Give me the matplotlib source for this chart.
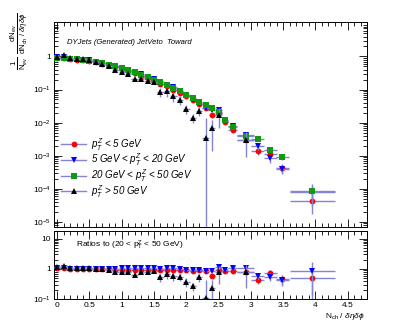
import numpy as np
import matplotlib
matplotlib.use("Agg")
import matplotlib.pyplot as plt
from matplotlib.lines import Line2D
from matplotlib.ticker import FixedLocator, LogLocator, FuncFormatter, MultipleLocator

plt.rcParams["font.family"] = ["Liberation Sans", "DejaVu Sans"]
plt.rcParams["mathtext.fontset"] = "custom"
plt.rcParams["mathtext.rm"] = "Liberation Sans"
plt.rcParams["mathtext.it"] = "Liberation Sans:italic"
plt.rcParams["mathtext.bf"] = "Liberation Sans:bold"

# bin centres / half widths (N_ch / deta dphi)
x = [0.0, 0.1, 0.2, 0.3, 0.4, 0.5, 0.6, 0.7, 0.8, 0.9, 1.0, 1.1, 1.2, 1.3,
     1.4, 1.5, 1.6, 1.7, 1.8, 1.9, 2.0, 2.1, 2.2, 2.3, 2.4, 2.5, 2.6,
     2.72, 2.92, 3.11, 3.30, 3.49, 3.95]
xerr = [0.05] * 27 + [0.07, 0.13, 0.10, 0.10, 0.10, 0.35]

# reference sample: 20 < pT(Z) < 50 GeV
green = [0.88, 0.88, 0.85, 0.82, 0.79, 0.74, 0.69, 0.63, 0.57, 0.50, 0.44,
         0.38, 0.33, 0.28, 0.24, 0.20, 0.165, 0.135, 0.11, 0.088, 0.07,
         0.054, 0.042, 0.033, 0.028, 0.021, 0.012,
         0.0073, 0.0039, 0.0032, 0.0015, 0.00093, 8.8e-5]

# ratios to the reference
red_ratio = [1.05, 1.05, 0.98, 0.97, 0.98, 0.98, 0.97, 0.97, 0.96, 0.95, 0.95,
             0.94, 0.95, 0.93, 0.92, 0.93, 0.92, 0.93, 0.90, 0.90, 0.90, 0.88,
             0.90, 0.84, 0.60, 0.95, 0.88, 0.84, 0.78, 0.42, 0.74, 0.45, 0.50]
blue_ratio = [1.08, 1.10, 1.02, 1.00, 1.02, 1.02, 1.00, 1.00, 1.00, 1.02, 1.04,
              1.05, 1.05, 1.05, 1.03, 1.05, 1.02, 1.04, 1.05, 1.00, 0.95, 0.95,
              0.92, 0.86, 0.86, 1.15, 0.95, 1.08, 1.05, 0.60, 0.55, 0.42, 0.88]
black_ratio = [1.13, 1.25, 1.08, 1.03, 1.03, 1.03, 1.00, 0.97, 0.90, 0.80, 0.76,
               0.76, 0.62, 0.76, 0.76, 0.84, 0.52, 0.65, 0.56, 0.55, 0.37, 0.26,
               0.53, 0.107, 0.24, 0.80, np.nan, np.nan, 0.78,
               np.nan, np.nan, np.nan, np.nan]

# relative stat. errors
green_rel = [0.01] * 20 + [0.02, 0.03, 0.03, 0.04, 0.05, 0.06, 0.08,
                           0.10, 0.12, 0.12, 0.15, 0.20, 0.60]
red_rel = [0.01] * 20 + [0.03, 0.04, 0.05, 0.06, 0.10, 0.08, 0.10,
                         0.12, 0.15, 0.20, 0.20, 0.30, 0.60]
blue_rel = [0.01] * 20 + [0.03, 0.04, 0.05, 0.06, 0.08, 0.08, 0.10,
                          0.12, 0.15, 0.20, 0.25, 0.30, 0.60]
black_rel = [0.02] * 9 + [0.05] * 3 + [0.10] * 4 + [0.30] * 7 + \
            [3.0, 0.8, 0.6, 0.0, 0.0, 0.7, 0.0, 0.0, 0.0, 0.0]

labels = [r"$p_{T}^{Z}$ < 5 GeV",
          r"5 GeV < $p_{T}^{Z}$ < 20 GeV",
          r"20 GeV < $p_{T}^{Z}$ < 50 GeV",
          r"$p_{T}^{Z}$ > 50 GeV"]
colors = ["#ff0000", "#0000ff", "#119911", "#000000"]
markers = ["o", "v", "s", "^"]
ecol = "#8484d4"

x = np.array(x)
xerr = np.array(xerr)
green = np.array(green)
ratios = [np.array(red_ratio), np.array(blue_ratio), None, np.array(black_ratio)]
rels = [np.array(red_rel), np.array(blue_rel), np.array(green_rel), np.array(black_rel)]

W, H = 407, 329
fig = plt.figure(figsize=(W / 100, H / 100), dpi=100)
ax = fig.add_axes([54 / W, 1 - 227 / H, 313 / W, 205 / H])
axr = fig.add_axes([54 / W, 1 - 299 / H, 313 / W, 68 / H])


def fmt_log(v, pos):
    if abs(v - 1) < 1e-9:
        return "1"
    if abs(v - 10) < 1e-9:
        return "10"
    e = int(round(np.log10(v)))
    return r"$10^{%d}$" % e


zs = [2, 3, 4, 5]
for i in range(4):
    yv = green if ratios[i] is None else green * ratios[i]
    ax.errorbar(x, yv, yerr=yv * rels[i], xerr=xerr, fmt=markers[i],
                color=colors[i], ecolor=ecol, elinewidth=1, capsize=0,
                ms=4.2, mew=0, zorder=zs[i])

for i in [1, 0, 3]:
    r = ratios[i]
    rerr = r * np.sqrt(rels[i] ** 2 + rels[2] ** 2)
    axr.errorbar(x, r, yerr=rerr, xerr=xerr, fmt=markers[i],
                 color=colors[i], ecolor=ecol, elinewidth=1, capsize=0,
                 ms=4.2, mew=0, zorder=zs[i])

for a in (ax, axr):
    a.set_yscale("log")
    a.set_xlim(-0.05, 4.8)
    a.xaxis.set_major_locator(MultipleLocator(0.5))
    a.xaxis.set_minor_locator(MultipleLocator(0.1))
    a.yaxis.set_minor_locator(LogLocator(base=10, subs=np.arange(2, 10)))
    a.yaxis.set_minor_formatter(FuncFormatter(lambda v, p: ""))
    a.tick_params(which="both", direction="in", top=True, right=True,
                  labelsize=6, width=0.6, pad=2)
    a.tick_params(which="major", length=6)
    a.tick_params(which="minor", length=3)
    for s in a.spines.values():
        s.set_linewidth(0.7)

ax.set_ylim(7e-6, 11)
ax.yaxis.set_major_locator(FixedLocator([1e-5, 1e-4, 1e-3, 1e-2, 1e-1, 1]))
ax.yaxis.set_major_formatter(FuncFormatter(fmt_log))
ax.tick_params(labelbottom=False)

axr.set_ylim(0.1, 18)
axr.yaxis.set_major_locator(FixedLocator([0.1, 1, 10]))
axr.yaxis.set_major_formatter(FuncFormatter(fmt_log))
axr.xaxis.set_major_formatter(FuncFormatter(lambda v, p: "%g" % v))

ax.text(0.04, 0.9, "DYJets (Generated) JetVeto  Toward", transform=ax.transAxes,
        fontsize=5.5, style="italic", va="center")
axr.text(0.07, 0.79, r"Ratios to (20 < $\mathrm{p_{T}^{Z}}$ < 50 GeV)",
         transform=axr.transAxes, fontsize=6, va="center")

handles = [Line2D([0], [0], color=ecol, lw=1, marker=markers[i], ms=4.2,
                  mfc=colors[i], mec=colors[i], mew=0) for i in range(4)]
ax.legend(handles, labels, loc="upper left", bbox_to_anchor=(61 / W, 1 - 136 / H),
          bbox_transform=fig.transFigure, frameon=False,
          prop={"style": "italic", "size": 7}, handlelength=2.6,
          handletextpad=0.5, labelspacing=-0.12, borderpad=0, borderaxespad=0)

fig.text(20 / W, 1 - 12 / H,
         r"$\frac{1}{\mathrm{N_{ev}}}\ \frac{\mathrm{dN_{ev}}}{\mathrm{dN_{ch}}\ /\ \delta\eta\delta\phi}$",
         rotation=90, ha="center", va="top", fontsize=8)
fig.text(365 / W, 1 - 317 / H, r"$\mathrm{N_{ch}}$ / $\delta\eta\delta\phi$",
         ha="right", va="center", fontsize=6)

fig.savefig("out.png", dpi=100)
